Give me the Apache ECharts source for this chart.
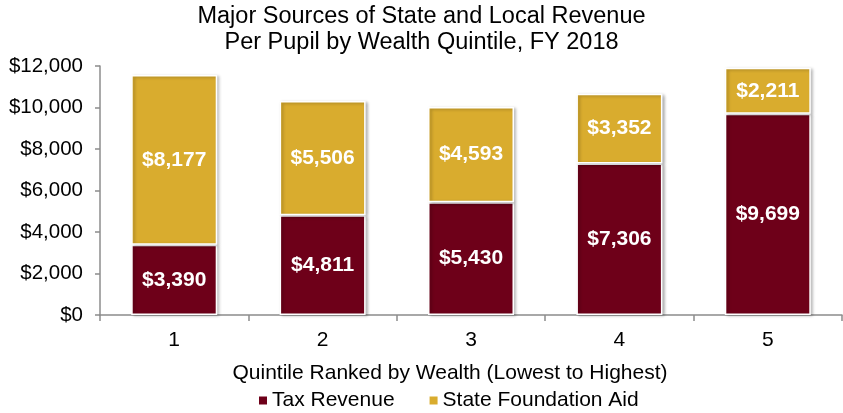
<!DOCTYPE html>
<html>
<head>
<meta charset="utf-8">
<script src="https://cdn.jsdelivr.net/npm/echarts@6/dist/echarts.min.js"></script>
<style>
  html, body { margin: 0; padding: 0; background: #fff; }
  #chart { width: 843px; height: 413px; }
</style>
</head>
<body>
<div id="chart"></div>
<script>
// Revenue per pupil by wealth quintile, FY 2018
const quintiles = ['1', '2', '3', '4', '5'];
const taxRevenue = [3390, 4811, 5430, 7306, 9699];
const foundationAid = [8177, 5506, 4593, 3352, 2211];
const yTicks = { min: 0, max: 12000, step: 2000 };

const FONT = '"Liberation Sans", Arial, sans-serif';
const money = v => '$' + Number(v).toLocaleString('en-US');

const chart = echarts.init(document.getElementById('chart'), null, { renderer: 'canvas' });

const barStyle = color => ({
  color: color,
  borderColor: '#ffffff',
  borderWidth: 1.5,
  shadowColor: 'rgba(0,0,0,0.28)',
  shadowBlur: 3,
  shadowOffsetX: 2,
  shadowOffsetY: 1
});

const barLabel = {
  show: true,
  position: 'inside',
  color: '#ffffff',
  fontFamily: FONT,
  fontWeight: 'bold',
  fontSize: 21,
  formatter: p => money(p.value)
};

chart.setOption({
  animation: false,
  backgroundColor: '#ffffff',
  title: {
    text: 'Major Sources of State and Local Revenue\nPer Pupil by Wealth Quintile, FY 2018',
    left: 'center',
    top: -2,
    padding: [5, 5, 5, 32],
    textStyle: {
      fontFamily: FONT,
      fontWeight: 'normal',
      fontSize: 23.5,
      lineHeight: 26.5,
      color: '#000000'
    }
  },
  legend: {
    top: 390,
    left: 257,
    padding: 0,
    itemWidth: 10,
    itemHeight: 10,
    itemGap: 33,
    icon: 'rect',
    textStyle: { fontFamily: FONT, fontSize: 21, color: '#000000', padding: [0, 0, 0, -1] },
    data: ['Tax Revenue', 'State Foundation Aid']
  },
  grid: { left: 100, right: 1, top: 66, bottom: 98, containLabel: false },
  xAxis: {
    type: 'category',
    data: quintiles,
    boundaryGap: true,
    name: 'Quintile Ranked by Wealth (Lowest to Highest)',
    nameLocation: 'middle',
    nameGap: 48,
    nameTextStyle: { fontFamily: FONT, fontSize: 21, color: '#000000', padding: [0, 42, 0, 0] },
    axisLine: { show: true, lineStyle: { color: '#8c8c8c', width: 1.5 } },
    axisTick: { show: true, alignWithLabel: false, interval: 0, length: 6, lineStyle: { color: '#8c8c8c', width: 1.5 } },
    axisLabel: { fontFamily: FONT, fontSize: 21, color: '#000000', margin: 15 }
  },
  yAxis: {
    type: 'value',
    min: yTicks.min,
    max: yTicks.max,
    interval: yTicks.step,
    axisLine: { show: true, lineStyle: { color: '#8c8c8c', width: 1.5 } },
    axisTick: { show: true, length: 5, lineStyle: { color: '#8c8c8c', width: 1.5 } },
    splitLine: { show: false },
    axisLabel: { fontFamily: FONT, fontSize: 20.5, color: '#000000', margin: 17, formatter: money }
  },
  series: [
    {
      name: 'Tax Revenue',
      type: 'bar',
      stack: 'revenue',
      barWidth: 86,
      data: taxRevenue,
      itemStyle: barStyle('#6e0019'),
      label: barLabel
    },
    {
      name: 'State Foundation Aid',
      type: 'bar',
      stack: 'revenue',
      barWidth: 86,
      data: foundationAid,
      itemStyle: barStyle('#d9ac2e'),
      label: barLabel
    }
  ]
});
</script>
</body>
</html>
